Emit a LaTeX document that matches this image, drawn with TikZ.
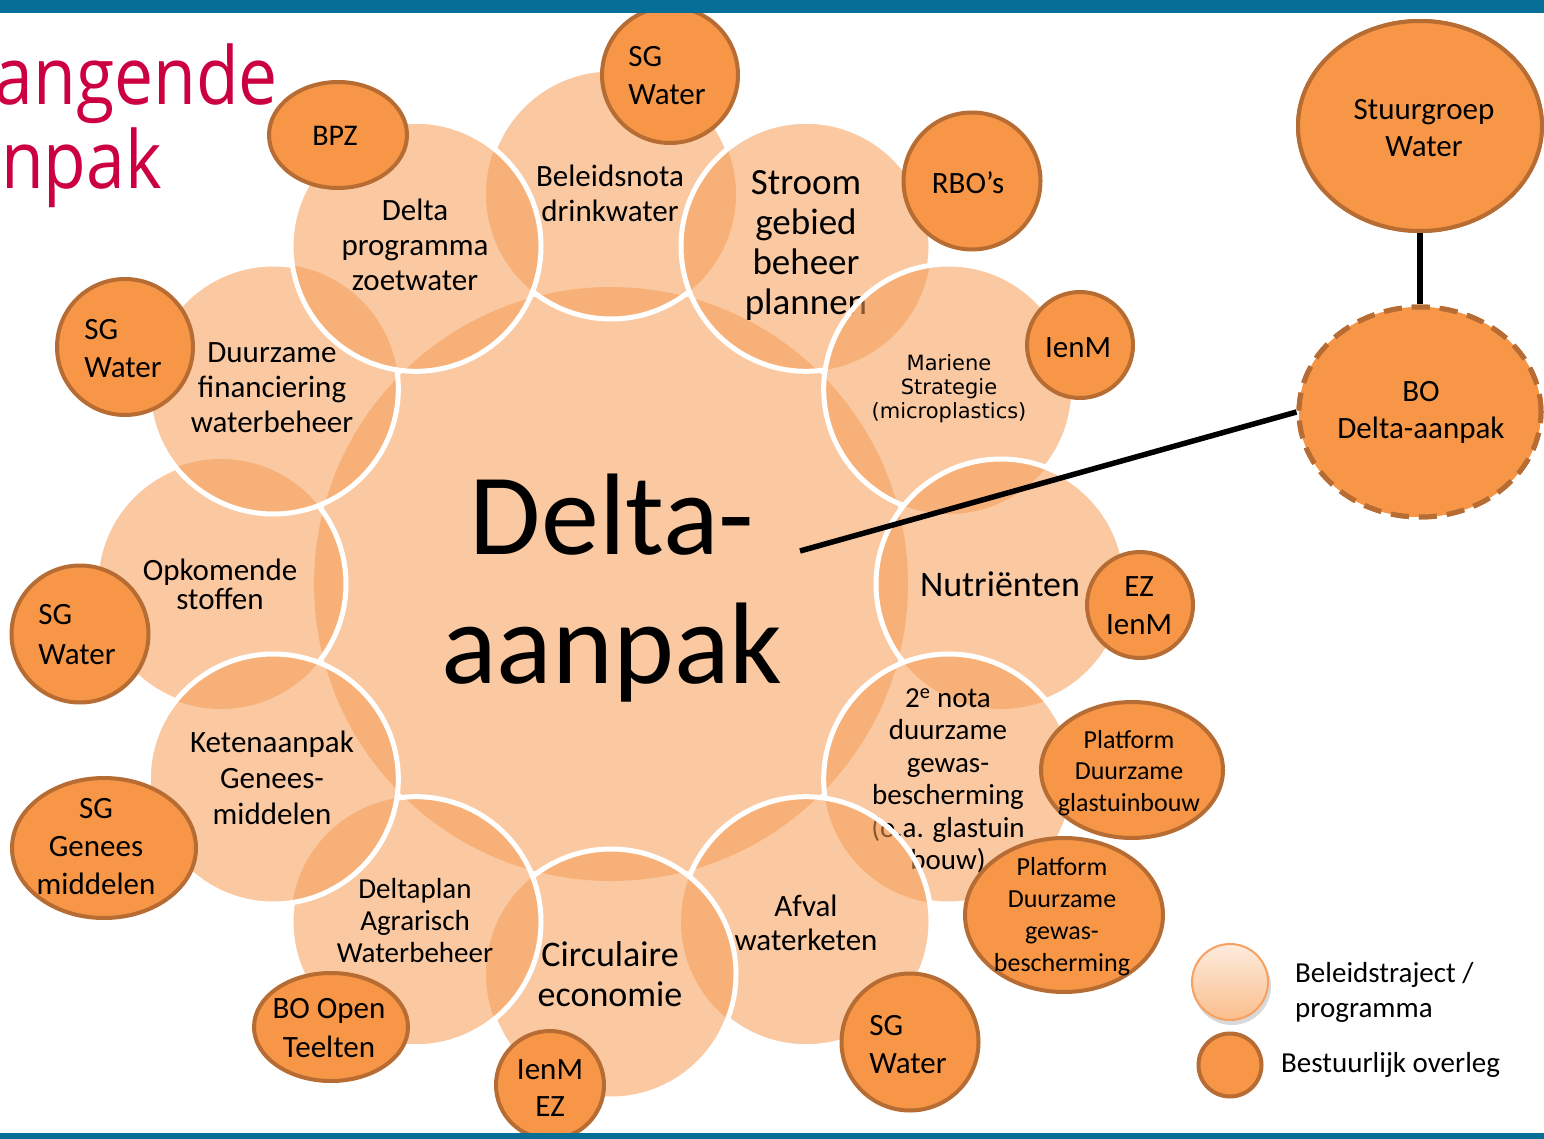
\documentclass[tikz,border=0pt]{standalone}
\usepackage{fontspec}
\setmainfont{Carlito}
\newfontfamily\verd{DejaVu Sans}
\newfontfamily\ttlfont[FakeStretch=0.87]{Open Sans}
\usetikzlibrary{shapes.geometric}
\definecolor{periC}{RGB}{246,158,86}
\definecolor{orgF}{RGB}{247,150,70}
\definecolor{orgD}{RGB}{182,108,50}
\definecolor{barC}{RGB}{6,110,151}
\definecolor{crim}{RGB}{204,0,65}
\definecolor{legT}{RGB}{253,236,222}
\definecolor{legB}{RGB}{250,190,140}
\definecolor{legE}{RGB}{247,160,95}
\newcommand\fsz[2]{\fontsize{#1}{#2}\selectfont}
\newcommand\outside[1]{\clip (-50,-50) rectangle (1600,1200) (#1) circle[radius=125];}
\begin{document}
\begin{tikzpicture}[x=1pt,y=-1pt,
  peri/.style={fill=periC, fill opacity=0.55},
  rim/.style={draw=white, line width=5pt},
  ptext/.style={align=center, inner sep=0pt, text=black},
  org/.style={fill=orgF, draw=orgD, line width=4pt, inner sep=0pt},
  orgc/.style={org, circle},
  orge/.style={org, ellipse},
  otext/.style={align=center, inner sep=0pt, text=black, font=\fsz{31}{38}},
  otextl/.style={align=left, inner sep=0pt, text=black, font=\fsz{31}{38}},
  conn/.style={draw=black, line width=5.5pt},
  ttl/.style={anchor=base east, text=crim, font=\ttlfont\fsz{80}{86}, inner sep=0pt}]
\useasboundingbox (0,0) rectangle (1544,1139);
\fill[white] (0,0) rectangle (1544,1139);

% title (cut off)
\node[ttl] (t1) at (278,105) {angende};
\node[ttl] (t2) at (162,189) {npak};

% coordinates
\coordinate (c) at (611,584);
\coordinate (p0) at (611,194);
\coordinate (p1) at (806,246.3);
\coordinate (p2) at (948.7,389);
\coordinate (p3) at (1001,584);
\coordinate (p4) at (948.7,779);
\coordinate (p5) at (806,921.7);
\coordinate (p6) at (611,974);
\coordinate (p7) at (416,921.7);
\coordinate (p8) at (273.3,779);
\coordinate (p9) at (221,584);
\coordinate (p10) at (273.3,389);
\coordinate (p11) at (416,246.3);

% central circle
\fill[peri] (c) circle[radius=297];

% p0 Beleidsnota
\fill[peri] (p0) circle[radius=125];
\begin{scope}[even odd rule]\outside{p1}\outside{p11}\draw[rim] (p0) circle[radius=125];\end{scope}
\node[ptext, font=\fsz{31}{35}] (n0) at (610,193) {Beleidsnota\\drinkwater};

% p9 Opkomende
\fill[peri] (p9) circle[radius=125];
\begin{scope}[even odd rule]\outside{p8}\outside{p10}\draw[rim] (p9) circle[radius=125];\end{scope}
\node[ptext, font=\fsz{31}{29}] (n9) at (220,584) {Opkomende\\stoffen};

% p1 Stroom
\fill[peri] (p1) circle[radius=125];
\begin{scope}[even odd rule]\outside{p2}\draw[rim] (p1) circle[radius=125];\end{scope}
\node[ptext, font=\fsz{37}{40}] (n1) at (806,245) {Stroom\\gebied\\beheer\\plannen};

% p2 Mariene
\fill[peri] (p2) circle[radius=125];
\begin{scope}[even odd rule]\outside{p3}\draw[rim] (p2) circle[radius=125];\end{scope}
\node[ptext, font=\verd\fsz{21}{24}] (n2) at (949,389) {Mariene\\Strategie\\(microplastics)};

% p3 Nutrienten
\fill[peri] (p3) circle[radius=125];
\begin{scope}[even odd rule]\outside{p4}\draw[rim] (p3) circle[radius=125];\end{scope}
\node[ptext, font=\fsz{36}{40}] (n3) at (1000,584) {Nutriënten};

% p4 2e nota
\fill[peri] (p4) circle[radius=125];
\begin{scope}[even odd rule]\outside{p5}\draw[rim] (p4) circle[radius=125];\end{scope}
\node[ptext, font=\fsz{29}{32.5}] (n4) at (948,781) {2\textsuperscript{e} nota\\duurzame\\gewas-\\bescherming\\(o.a. glastuin\\bouw)};

% p5 Afval
\fill[peri] (p5) circle[radius=125];
\begin{scope}[even odd rule]\outside{p6}\draw[rim] (p5) circle[radius=125];\end{scope}
\node[ptext, font=\fsz{31}{34}] (n5) at (806,923) {Afval\\waterketen};

% p6 Circulaire
\fill[peri] (p6) circle[radius=125];
\begin{scope}[even odd rule]\outside{p7}\draw[rim] (p6) circle[radius=125];\end{scope}
\node[ptext, font=\fsz{36}{40}] (n6) at (610,974) {Circulaire\\economie};

% p7 Deltaplan
\fill[peri] (p7) circle[radius=125];
\begin{scope}[even odd rule]\outside{p8}\draw[rim] (p7) circle[radius=125];\end{scope}
\node[ptext, font=\fsz{29}{32}] (n7) at (415,921) {Deltaplan\\Agrarisch\\Waterbeheer};

% p8 Ketenaanpak
\fill[peri] (p8) circle[radius=125];
\draw[rim] (p8) circle[radius=125];
\node[ptext, font=\fsz{31}{36}] (n8) at (272,778) {Ketenaanpak\\Genees-\\middelen};

% p10 Duurzame financiering
\fill[peri] (p10) circle[radius=125];
\begin{scope}[even odd rule]\outside{p11}\draw[rim] (p10) circle[radius=125];\end{scope}
\node[ptext, font=\fsz{31}{35}] (n10) at (272,388) {Duurzame\\financiering\\waterbeheer};

% p11 Delta programma
\fill[peri] (p11) circle[radius=125];
\draw[rim] (p11) circle[radius=125];
\node[ptext, font=\fsz{31}{35}] (n11) at (415,245) {Delta\\programma\\zoetwater};

% central text
\node[ptext, font=\fsz{116}{129}] (delta) at (612,588) {Delta-\\aanpak};
\coordinate (dc) at (800,551);

% governance bodies
\node[orge, minimum width=244pt, minimum height=210pt] (stuur) at (1420,126) {};
\node[orge, dash pattern=on 18pt off 10pt, line width=5pt, minimum width=242pt, minimum height=210pt] (bo) at (1420,412) {};
\draw[conn] (stuur.south) -- (bo.north);
\draw[conn] (bo.west) -- (dc);
\node[orge, minimum width=244pt, minimum height=210pt] at (stuur) {};
\node[orge, dash pattern=on 18pt off 10pt, line width=5pt, minimum width=242pt, minimum height=210pt] at (bo) {};
\node[otext, font=\fsz{31}{37}] (stuurt) at (1424,128) {Stuurgroep\\Water};
\node[otext, font=\fsz{31}{37}] (bot) at (1421,412) {BO\\Delta-aanpak};

\node[orgc, minimum size=136pt] (sgw1) at (670,75) {};
\node[otextl] (sgw1t) at (667,76) {SG\\Water};
\node[orge, minimum width=138pt, minimum height=106pt] (bpz) at (338,135) {};
\node[otext, font=\fsz{30}{36}] (bpzt) at (335,136) {BPZ};
\node[orgc, minimum size=137pt] (rbo) at (972,181) {};
\node[otext, font=\fsz{31}{36}] (rbot) at (968,183) {RBO’s};
\node[orgc, minimum size=106pt] (ienm1) at (1080,345) {};
\node[otext] (ienm1t) at (1078,348) {IenM};
\node[orgc, minimum size=136pt] (sgw2) at (125,347) {};
\node[otextl] (sgw2t) at (123,349) {SG\\Water};
\node[orgc, minimum size=137pt] (sgw3) at (80,634) {};
\node[otextl, font=\fsz{31}{40}] (sgw3t) at (77,635) {SG\\Water};
\node[orge, minimum width=184pt, minimum height=140pt] (sggm) at (104,848) {};
\node[otext] (sggmt) at (96,847) {SG\\Genees\\middelen};
\node[orgc, minimum size=106pt] (ezienm) at (1140,605) {};
\node[otext] (ezienmt) at (1139,606) {EZ\\IenM};
\node[orge, minimum width=182pt, minimum height=136pt] (pdg) at (1132,770) {};
\node[otext, font=\fsz{26}{31.5}] (pdgt) at (1129,773) {Platform\\Duurzame\\glastuinbouw};
\node[orge, minimum width=198pt, minimum height=154pt] (pdgb) at (1064,915) {};
\node[otext, font=\fsz{26}{32}] (pdgbt) at (1062,917) {Platform\\Duurzame\\gewas-\\bescherming};
\node[orgc, minimum size=137pt] (sgw4) at (910,1042) {};
\node[otextl] (sgw4t) at (908,1045) {SG\\Water};
\node[orgc, minimum size=108pt] (ienmez) at (550,1085) {};
\node[otext, font=\fsz{31}{37}] (ienmezt) at (550,1088) {IenM\\EZ};
\node[orge, minimum width=154pt, minimum height=108pt] (boot) at (331,1027) {};
\node[otext, font=\fsz{31}{39}] (boott) at (329,1028) {BO Open\\Teelten};

% legend
\fill[black, opacity=0.15] (1232,986) circle[radius=39];
\shade[top color=legT, bottom color=legB] (1230,982) circle[radius=38];
\draw[legE, line width=2pt] (1230,982) circle[radius=38];
\node[org, circle, minimum size=63pt] (leg2) at (1230,1065) {};
\node[anchor=west, align=left, inner sep=0pt, font=\fsz{29}{35}] (leg1t) at (1295,992) {Beleidstraject /\\programma};
\node[anchor=base west, inner sep=0pt, font=\fsz{29}{35}] (leg2t) at (1281,1072) {Bestuurlijk overleg};

% bars
\fill[barC] (0,0) rectangle (1544,13);
\fill[barC] (0,1133) rectangle (1544,1139);
\end{tikzpicture}
\end{document}
